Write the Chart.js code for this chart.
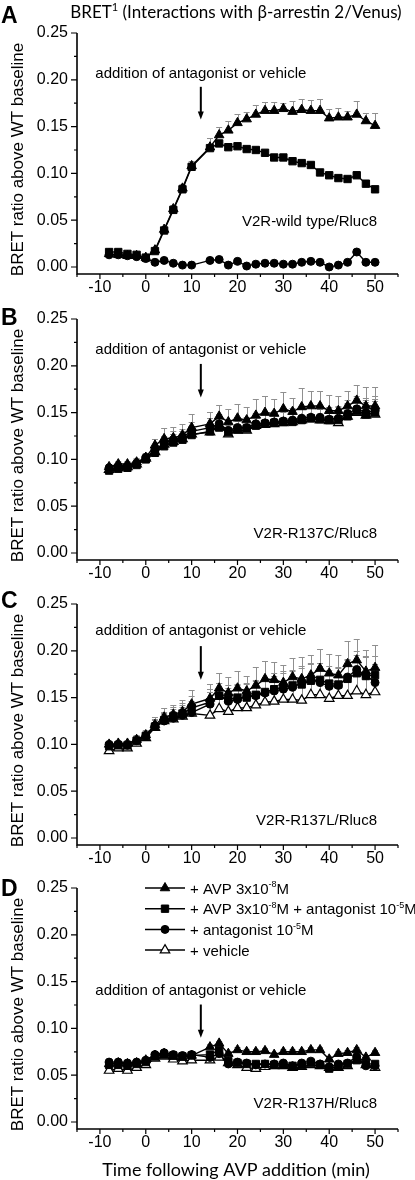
<!DOCTYPE html>
<html>
<head>
<meta charset="utf-8">
<script src="https://cdn.jsdelivr.net/npm/chart.js@4/dist/chart.umd.min.js"></script>
<style>
  body { margin: 0; background: #fff; width: 415px; height: 1180px; position: relative; overflow: hidden; }
  canvas { position: absolute; left: 0; }
</style>
</head>
<body>
<canvas id="panelA" width="415" height="310" style="top:0px"></canvas>
<canvas id="panelB" width="415" height="310" style="top:286px"></canvas>
<canvas id="panelC" width="415" height="310" style="top:571px"></canvas>
<canvas id="panelD" width="415" height="325" style="top:855px"></canvas>
<script>
// time points (min); nothing measured at 12 min (addition)
const times = [-8, -6, -4, -2, 0, 2, 4, 6, 8, 10, 14, 16, 18, 20, 22, 24, 26, 28, 30, 32, 34, 36, 38, 40, 42, 44, 46, 48, 50];

const xTicks = [-10, 0, 10, 20, 30, 40, 50];
const xMinorTicks = [-15, -5, 5, 15, 25, 35, 45, 55];
const yTicks = [0, 0.05, 0.10, 0.15, 0.20, 0.25];
const yMinorTicks = [0.025, 0.075, 0.125, 0.175, 0.225];

/* ===== A: wild type ===== */
const aAvp     = [0.014, 0.013, 0.012, 0.012, 0.010, 0.018, 0.040, 0.062, 0.084, 0.108, 0.128, 0.141, 0.146, 0.154, 0.158, 0.163, 0.167, 0.167, 0.169, 0.166, 0.168, 0.167, 0.167, 0.159, 0.160, 0.160, 0.163, 0.156, 0.151];
const aAvpErr  = [0.002, 0.002, 0.002, 0.002, 0.002, 0.002, 0.003, 0.004, 0.005, 0.005, 0.010, 0.009, 0.010, 0.009, 0.008, 0.010, 0.009, 0.009, 0.006, 0.011, 0.012, 0.011, 0.012, 0.010, 0.010, 0.007, 0.014, 0.008, 0.013];
const aAnt     = [0.016, 0.016, 0.014, 0.013, 0.010, 0.017, 0.039, 0.061, 0.083, 0.107, 0.127, 0.132, 0.128, 0.129, 0.126, 0.125, 0.122, 0.117, 0.117, 0.113, 0.111, 0.109, 0.101, 0.098, 0.095, 0.094, 0.098, 0.089, 0.083];
const aAntErr  = [0.002, 0.002, 0.002, 0.002, 0.002, 0.002, 0.003, 0.004, 0.004, 0.004, 0.004, 0.003, 0.003, 0.003, 0.003, 0.003, 0.003, 0.003, 0.003, 0.003, 0.003, 0.003, 0.003, 0.004, 0.003, 0.003, 0.005, 0.003, 0.003];
const aOnly    = [0.013, 0.013, 0.012, 0.011, 0.009, 0.005, 0.007, 0.004, 0.002, 0.002, 0.007, 0.008, 0.002, 0.006, 0.001, 0.003, 0.004, 0.004, 0.003, 0.003, 0.005, 0.006, 0.005, 0.000, 0.002, 0.005, 0.016, 0.005, 0.005];
const aOnlyErr = [0.002, 0.002, 0.002, 0.002, 0.002, 0.002, 0.002, 0.002, 0.002, 0.002, 0.002, 0.002, 0.002, 0.002, 0.002, 0.002, 0.002, 0.002, 0.002, 0.002, 0.002, 0.002, 0.002, 0.003, 0.002, 0.002, 0.002, 0.002, 0.002];

/* ===== B: R137C ===== */
const bAvp     = [0.092, 0.095, 0.095, 0.097, 0.102, 0.115, 0.122, 0.123, 0.126, 0.134, 0.138, 0.146, 0.140, 0.144, 0.142, 0.147, 0.150, 0.149, 0.154, 0.151, 0.156, 0.157, 0.157, 0.152, 0.152, 0.157, 0.163, 0.157, 0.157];
const bAvpErr  = [0.003, 0.003, 0.003, 0.004, 0.005, 0.007, 0.012, 0.012, 0.012, 0.015, 0.013, 0.012, 0.014, 0.015, 0.014, 0.017, 0.018, 0.016, 0.018, 0.015, 0.020, 0.016, 0.016, 0.017, 0.016, 0.016, 0.016, 0.020, 0.020];
const bAnt     = [0.088, 0.090, 0.091, 0.094, 0.100, 0.107, 0.114, 0.118, 0.121, 0.126, 0.130, 0.134, 0.129, 0.132, 0.133, 0.136, 0.138, 0.139, 0.140, 0.140, 0.142, 0.144, 0.143, 0.142, 0.142, 0.146, 0.152, 0.148, 0.150];
const bAntErr  = [0.003, 0.003, 0.003, 0.004, 0.004, 0.006, 0.008, 0.009, 0.009, 0.010, 0.010, 0.010, 0.011, 0.011, 0.011, 0.012, 0.012, 0.012, 0.013, 0.013, 0.014, 0.013, 0.013, 0.014, 0.014, 0.014, 0.014, 0.015, 0.015];
const bOnly    = [0.091, 0.093, 0.093, 0.096, 0.102, 0.110, 0.117, 0.121, 0.124, 0.130, 0.134, 0.138, 0.131, 0.134, 0.134, 0.138, 0.139, 0.140, 0.141, 0.142, 0.144, 0.145, 0.145, 0.143, 0.144, 0.149, 0.154, 0.150, 0.152];
const bOnlyErr = [0.003, 0.003, 0.003, 0.004, 0.004, 0.006, 0.008, 0.009, 0.009, 0.010, 0.010, 0.010, 0.011, 0.011, 0.011, 0.012, 0.012, 0.012, 0.013, 0.013, 0.013, 0.013, 0.013, 0.013, 0.013, 0.014, 0.014, 0.016, 0.016];
const bVeh     = [0.089, 0.091, 0.092, 0.095, 0.101, 0.108, 0.116, 0.119, 0.122, 0.127, 0.129, 0.136, 0.127, 0.131, 0.131, 0.136, 0.137, 0.138, 0.139, 0.140, 0.142, 0.143, 0.142, 0.141, 0.139, 0.146, 0.150, 0.147, 0.148];
const bVehErr  = [0.003, 0.003, 0.003, 0.003, 0.004, 0.005, 0.007, 0.008, 0.008, 0.009, 0.009, 0.009, 0.010, 0.010, 0.010, 0.011, 0.011, 0.011, 0.012, 0.012, 0.012, 0.012, 0.012, 0.012, 0.012, 0.013, 0.013, 0.014, 0.014];

/* ===== C: R137L ===== */
const cAvp     = [0.100, 0.101, 0.101, 0.105, 0.110, 0.121, 0.129, 0.132, 0.135, 0.143, 0.149, 0.160, 0.155, 0.160, 0.157, 0.163, 0.170, 0.169, 0.166, 0.172, 0.170, 0.174, 0.181, 0.176, 0.174, 0.186, 0.190, 0.178, 0.182];
const cAvpErr  = [0.004, 0.004, 0.004, 0.005, 0.005, 0.008, 0.010, 0.010, 0.012, 0.015, 0.016, 0.016, 0.017, 0.018, 0.016, 0.020, 0.019, 0.019, 0.019, 0.020, 0.023, 0.022, 0.021, 0.021, 0.022, 0.024, 0.023, 0.023, 0.024];
const cAnt     = [0.098, 0.099, 0.099, 0.104, 0.109, 0.119, 0.126, 0.130, 0.133, 0.139, 0.145, 0.152, 0.148, 0.150, 0.150, 0.153, 0.156, 0.159, 0.161, 0.163, 0.164, 0.168, 0.169, 0.165, 0.164, 0.170, 0.176, 0.173, 0.174];
const cAntErr  = [0.004, 0.004, 0.004, 0.005, 0.005, 0.007, 0.009, 0.010, 0.011, 0.013, 0.014, 0.014, 0.015, 0.015, 0.015, 0.016, 0.016, 0.017, 0.017, 0.017, 0.018, 0.018, 0.018, 0.019, 0.019, 0.020, 0.020, 0.020, 0.020];
const cOnly    = [0.100, 0.100, 0.099, 0.104, 0.109, 0.120, 0.125, 0.128, 0.131, 0.134, 0.143, 0.152, 0.146, 0.148, 0.151, 0.152, 0.155, 0.157, 0.159, 0.161, 0.166, 0.169, 0.166, 0.162, 0.163, 0.172, 0.180, 0.174, 0.166];
const cOnlyErr = [0.004, 0.004, 0.004, 0.005, 0.005, 0.007, 0.009, 0.010, 0.011, 0.012, 0.013, 0.014, 0.014, 0.015, 0.015, 0.016, 0.016, 0.016, 0.017, 0.017, 0.018, 0.018, 0.018, 0.018, 0.019, 0.019, 0.020, 0.020, 0.020];
const cVeh     = [0.093, 0.096, 0.096, 0.101, 0.107, 0.118, 0.125, 0.127, 0.130, 0.133, 0.131, 0.138, 0.135, 0.139, 0.139, 0.142, 0.145, 0.146, 0.148, 0.148, 0.147, 0.153, 0.153, 0.149, 0.152, 0.152, 0.157, 0.153, 0.156];
const cVehErr  = [0.003, 0.003, 0.003, 0.004, 0.004, 0.006, 0.008, 0.009, 0.010, 0.011, 0.012, 0.012, 0.013, 0.013, 0.013, 0.014, 0.014, 0.014, 0.015, 0.015, 0.015, 0.015, 0.016, 0.016, 0.016, 0.016, 0.017, 0.017, 0.017];

/* ===== D: R137H ===== */
const dAvp     = [0.062, 0.063, 0.062, 0.063, 0.066, 0.071, 0.073, 0.070, 0.069, 0.071, 0.080, 0.084, 0.073, 0.077, 0.075, 0.075, 0.076, 0.072, 0.075, 0.075, 0.075, 0.077, 0.077, 0.067, 0.073, 0.074, 0.077, 0.069, 0.074];
const dAvpErr  = [0.002, 0.002, 0.002, 0.002, 0.002, 0.002, 0.002, 0.002, 0.002, 0.002, 0.003, 0.003, 0.003, 0.003, 0.003, 0.003, 0.003, 0.003, 0.003, 0.003, 0.003, 0.003, 0.003, 0.003, 0.003, 0.003, 0.003, 0.003, 0.003];
const dAnt     = [0.061, 0.061, 0.060, 0.062, 0.064, 0.070, 0.072, 0.071, 0.070, 0.071, 0.072, 0.077, 0.065, 0.063, 0.062, 0.062, 0.062, 0.061, 0.061, 0.060, 0.061, 0.063, 0.061, 0.057, 0.060, 0.062, 0.066, 0.062, 0.062];
const dAntErr  = [0.002, 0.002, 0.002, 0.002, 0.002, 0.002, 0.002, 0.002, 0.002, 0.002, 0.003, 0.003, 0.003, 0.003, 0.003, 0.003, 0.003, 0.003, 0.003, 0.003, 0.004, 0.003, 0.003, 0.003, 0.003, 0.003, 0.003, 0.003, 0.003];
const dOnly    = [0.064, 0.064, 0.063, 0.064, 0.066, 0.072, 0.074, 0.072, 0.071, 0.072, 0.069, 0.073, 0.062, 0.064, 0.063, 0.061, 0.062, 0.062, 0.063, 0.060, 0.063, 0.065, 0.062, 0.059, 0.062, 0.063, 0.070, 0.060, 0.060];
const dOnlyErr = [0.002, 0.002, 0.002, 0.002, 0.002, 0.002, 0.002, 0.002, 0.002, 0.002, 0.003, 0.003, 0.003, 0.003, 0.003, 0.003, 0.003, 0.003, 0.003, 0.003, 0.003, 0.003, 0.003, 0.003, 0.003, 0.003, 0.003, 0.003, 0.003];
const dVeh     = [0.055, 0.057, 0.055, 0.058, 0.061, 0.068, 0.070, 0.067, 0.065, 0.066, 0.066, 0.069, 0.063, 0.061, 0.058, 0.057, 0.059, 0.060, 0.060, 0.058, 0.059, 0.061, 0.060, 0.058, 0.058, 0.060, 0.066, 0.061, 0.058];
const dVehErr  = [0.002, 0.002, 0.002, 0.002, 0.002, 0.002, 0.002, 0.002, 0.002, 0.002, 0.002, 0.002, 0.002, 0.002, 0.002, 0.002, 0.002, 0.002, 0.002, 0.002, 0.002, 0.002, 0.002, 0.002, 0.002, 0.002, 0.002, 0.002, 0.002];

// legend texts, '^' marks a superscript piece
const legendKinds = ['avp', 'ant', 'only', 'veh'];
const legendTexts = [
  ['+ AVP 3x10', '^-8', 'M'],
  ['+ AVP 3x10', '^-8', 'M + antagonist 10', '^-5', 'M'],
  ['+ antagonist 10', '^-5', 'M'],
  ['+ vehicle']
];

const SANS = '"Liberation Sans", Arial, sans-serif';
const HUMAN = 'Lato, "Open Sans", "Noto Sans", sans-serif';

const styles = {
  avp:  { pointStyle: 'triangle', pointRadius: 5.5, pointBackgroundColor: '#000', pointBorderWidth: 1 },
  ant:  { pointStyle: 'rect',     pointRadius: 5.2, pointBackgroundColor: '#000', pointBorderWidth: 1 },
  only: { pointStyle: 'circle',   pointRadius: 4,   pointBackgroundColor: '#000', pointBorderWidth: 1 },
  veh:  { pointStyle: 'triangle', pointRadius: 5.5, pointBackgroundColor: '#fff', pointBorderWidth: 1.2 }
};

const panels = [
  { id: 'panelA', letter: 'A', letterY: 23, strain: 'V2R-wild type/Rluc8', strainY: 0.048,
    noteY: 0.2065, arrowTop: 0.1925, arrowBottom: 0.1575, height: 310, title: true,
    series: [['avp', aAvp, aAvpErr], ['ant', aAnt, aAntErr], ['only', aOnly, aOnlyErr]] },
  { id: 'panelB', letter: 'B', letterY: 39, strain: 'V2R-R137C/Rluc8', strainY: 0.020,
    noteY: 0.217, arrowTop: 0.202, arrowBottom: 0.166, height: 310,
    series: [['avp', bAvp, bAvpErr], ['ant', bAnt, bAntErr], ['only', bOnly, bOnlyErr], ['veh', bVeh, bVehErr]] },
  { id: 'panelC', letter: 'C', letterY: 37, strain: 'V2R-R137L/Rluc8', strainY: 0.018,
    noteY: 0.221, arrowTop: 0.205, arrowBottom: 0.169, height: 310,
    series: [['avp', cAvp, cAvpErr], ['ant', cAnt, cAntErr], ['only', cOnly, cOnlyErr], ['veh', cVeh, cVehErr]] },
  { id: 'panelD', letter: 'D', letterY: 41, strain: 'V2R-R137H/Rluc8', strainY: 0.019,
    noteY: 0.140, arrowTop: 0.1255, arrowBottom: 0.090, height: 325, legend: true, xTitle: true,
    series: [['avp', dAvp, dAvpErr], ['ant', dAnt, dAntErr], ['only', dOnly, dOnlyErr], ['veh', dVeh, dVehErr]] }
];

/* ===== helpers ===== */

function drawRich(ctx, x, y, parts, size, family, align) {
  const big = size + 'px ' + family;
  const small = Math.round(size * 0.62) + 'px ' + family;
  let w = 0;
  parts.forEach(s => {
    const sup = s[0] === '^';
    ctx.font = sup ? small : big;
    w += ctx.measureText(sup ? s.slice(1) : s).width;
  });
  let cx = align === 'center' ? x - w / 2 : x;
  ctx.textAlign = 'left';
  ctx.textBaseline = 'alphabetic';
  parts.forEach(s => {
    const sup = s[0] === '^';
    const t = sup ? s.slice(1) : s;
    ctx.font = sup ? small : big;
    ctx.fillText(t, cx, sup ? y - size * 0.42 : y);
    cx += ctx.measureText(t).width;
  });
}

function drawMarker(ctx, kind, x, y) {
  const st = styles[kind];
  const r = st.pointRadius;
  ctx.save();
  ctx.fillStyle = st.pointBackgroundColor;
  ctx.strokeStyle = '#000';
  ctx.lineWidth = st.pointBorderWidth;
  ctx.beginPath();
  if (st.pointStyle === 'triangle') {
    ctx.moveTo(x, y - r);
    ctx.lineTo(x + 0.866 * r, y + 0.5 * r);
    ctx.lineTo(x - 0.866 * r, y + 0.5 * r);
    ctx.closePath();
  } else if (st.pointStyle === 'rect') {
    const h = r * Math.SQRT1_2;
    ctx.rect(x - h, y - h, 2 * h, 2 * h);
  } else {
    ctx.arc(x, y, r, 0, Math.PI * 2);
  }
  ctx.fill();
  ctx.stroke();
  ctx.restore();
}

function decorPlugin(p) {
  return {
    id: 'decor' + p.letter,
    beforeDatasetsDraw(chart) {
      // upper error bars, grey with caps
      const ctx = chart.ctx, ys = chart.scales.y;
      ctx.save();
      ctx.strokeStyle = '#8f8f8f';
      ctx.lineWidth = 1;
      chart.data.datasets.forEach((ds, i) => {
        chart.getDatasetMeta(i).data.forEach((pt, j) => {
          const top = Math.round(ys.getPixelForValue(ds.data[j].y + ds.errors[j])) + 0.5;
          ctx.beginPath();
          ctx.moveTo(Math.round(pt.x) + 0.5, pt.y);
          ctx.lineTo(Math.round(pt.x) + 0.5, top);
          ctx.moveTo(pt.x - 3, top);
          ctx.lineTo(pt.x + 3, top);
          ctx.stroke();
        });
      });
      ctx.restore();
    },
    afterDraw(chart) {
      const ctx = chart.ctx, xs = chart.scales.x, ys = chart.scales.y;
      const { left, right, top, bottom } = chart.chartArea;
      ctx.save();
      ctx.strokeStyle = '#000';
      ctx.fillStyle = '#000';

      // axis lines and tick marks
      ctx.lineWidth = 1.6;
      ctx.beginPath();
      ctx.moveTo(left, top);
      ctx.lineTo(left, bottom);
      ctx.lineTo(right, bottom);
      ctx.stroke();
      ctx.lineWidth = 1.2;
      ctx.beginPath();
      xTicks.concat(xMinorTicks).forEach(v => {
        const px = xs.getPixelForValue(v);
        ctx.moveTo(px, bottom);
        ctx.lineTo(px, bottom + (xTicks.includes(v) ? 5 : 3));
      });
      yTicks.concat(yMinorTicks).forEach(v => {
        const py = ys.getPixelForValue(v);
        ctx.moveTo(left, py);
        ctx.lineTo(left - (yTicks.includes(v) ? 6 : 3), py);
      });
      ctx.stroke();

      // panel letter
      ctx.font = 'bold 23px ' + SANS;
      ctx.textAlign = 'left';
      ctx.textBaseline = 'alphabetic';
      ctx.fillText(p.letter, 1, p.letterY);

      // y axis title
      ctx.save();
      ctx.translate(18, (top + bottom) / 2 + 6);
      ctx.rotate(-Math.PI / 2);
      ctx.font = '17px ' + SANS;
      ctx.textAlign = 'center';
      ctx.textBaseline = 'middle';
      ctx.fillText('BRET ratio above WT baseline', 0, 0);
      ctx.restore();

      // addition note and arrow
      const ax = xs.getPixelForValue(12);
      ctx.font = '15px ' + SANS;
      ctx.textAlign = 'center';
      ctx.textBaseline = 'middle';
      ctx.fillText('addition of antagonist or vehicle', ax, ys.getPixelForValue(p.noteY));
      const y1 = ys.getPixelForValue(p.arrowTop), y2 = ys.getPixelForValue(p.arrowBottom);
      ctx.lineWidth = 2;
      ctx.beginPath();
      ctx.moveTo(ax, y1);
      ctx.lineTo(ax, y2 - 6);
      ctx.stroke();
      ctx.beginPath();
      ctx.moveTo(ax, y2);
      ctx.lineTo(ax - 3, y2 - 8);
      ctx.lineTo(ax + 3, y2 - 8);
      ctx.closePath();
      ctx.fill();

      // construct label
      ctx.font = '15px ' + SANS;
      ctx.textAlign = 'right';
      ctx.fillText(p.strain, 377, ys.getPixelForValue(p.strainY));

      if (p.title) {
        drawRich(ctx, 236, 18, ['BRET', '^1', ' (Interactions with β-arrestin 2/Venus)'], 17, HUMAN, 'center');
      }
      if (p.xTitle) {
        ctx.font = '18px ' + HUMAN;
        ctx.textAlign = 'center';
        ctx.textBaseline = 'alphabetic';
        ctx.fillText('Time following AVP addition (min)', 236, 321);
      }
      if (p.legend) {
        legendKinds.forEach((k, i) => {
          const ly = 33 + i * 20.7;
          ctx.lineWidth = 1.5;
          ctx.beginPath();
          ctx.moveTo(145, ly);
          ctx.lineTo(185, ly);
          ctx.stroke();
          drawMarker(ctx, k, 165, ly);
          drawRich(ctx, 190, ly + 5.5, legendTexts[i], 15, SANS, 'left');
        });
      }
      ctx.restore();
    }
  };
}

/* ===== charts ===== */

function makePanel(p) {
  const datasets = p.series.map(([kind, values, errors]) => Object.assign({
    data: times.map((t, i) => ({ x: t, y: values[i] })),
    errors: errors,
    showLine: true,
    borderColor: '#000',
    borderWidth: 1.4,
    pointBorderColor: '#000',
    tension: 0
  }, styles[kind]));

  return new Chart(document.getElementById(p.id), {
    type: 'scatter',
    data: { datasets },
    options: {
      responsive: false,
      animation: false,
      layout: { padding: { top: 33, left: 0, right: 17, bottom: 0 } },
      plugins: { legend: { display: false }, tooltip: { enabled: false } },
      scales: {
        x: {
          type: 'linear', min: -15, max: 55,
          afterBuildTicks: s => { s.ticks = xTicks.map(v => ({ value: v })); },
          afterFit: s => { s.height = p.height - 33 - 241; },
          grid: { display: false, drawTicks: false },
          border: { display: false },
          ticks: { padding: 4, color: '#000', font: { family: SANS, size: 16 }, maxRotation: 0, autoSkip: false }
        },
        y: {
          type: 'linear', min: -0.0075, max: 0.25,
          afterBuildTicks: s => { s.ticks = yTicks.map(v => ({ value: v })); },
          afterFit: s => { s.width = 77; },
          grid: { display: false, drawTicks: false },
          border: { display: false },
          ticks: { padding: 9, color: '#000', font: { family: SANS, size: 16 }, callback: v => v.toFixed(2) }
        }
      }
    },
    plugins: [decorPlugin(p)]
  });
}

panels.forEach(makePanel);
</script>
</body>
</html>
